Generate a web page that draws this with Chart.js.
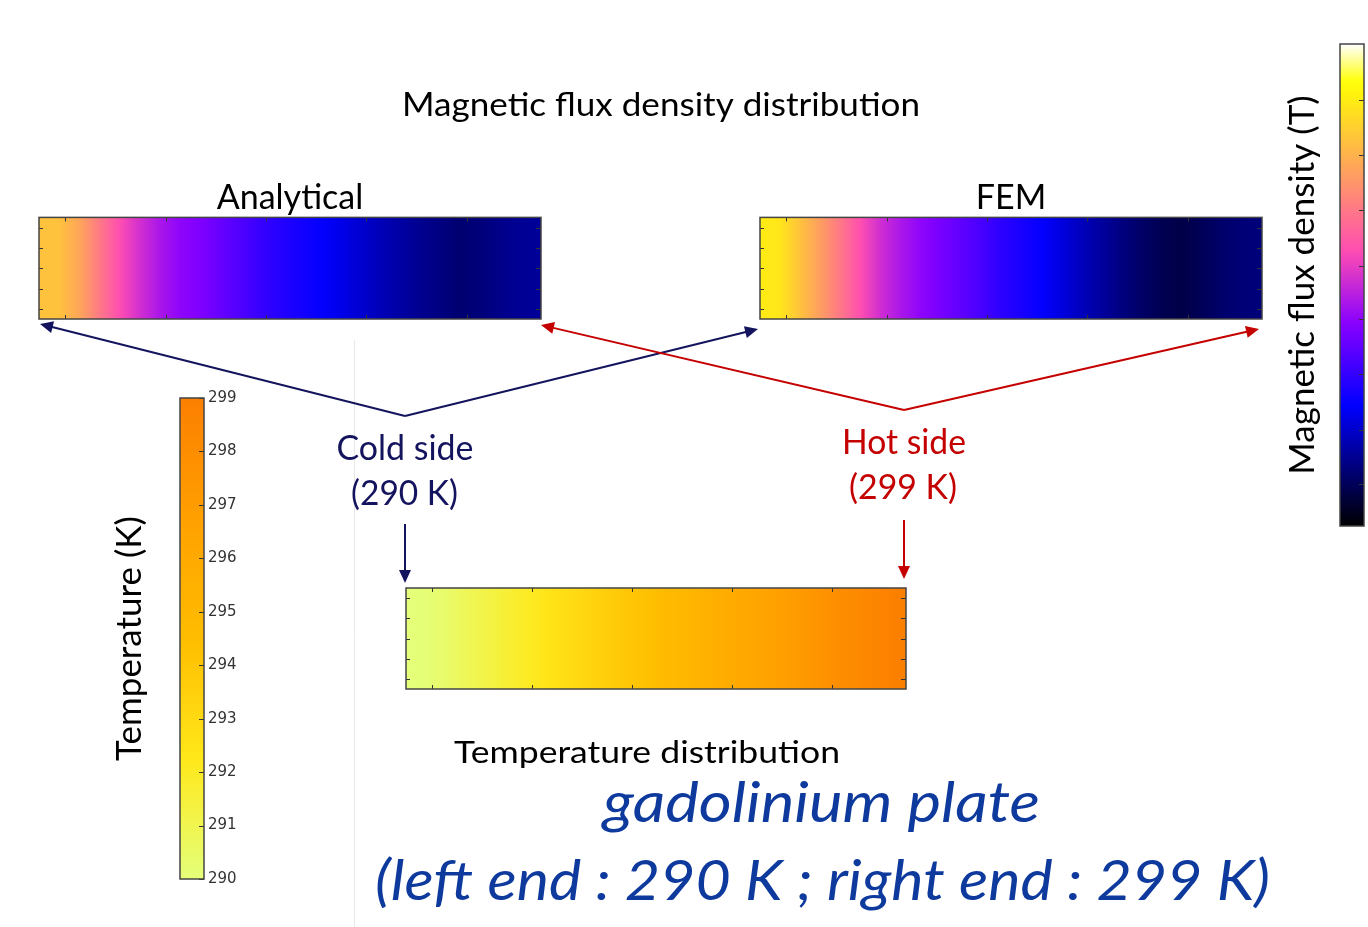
<!DOCTYPE html>
<html>
<head>
<meta charset="utf-8">
<script src="https://cdn.jsdelivr.net/npm/chart.js@4.4.1/dist/chart.umd.min.js"></script>
<style>
body{margin:0;background:#fff;width:1368px;height:927px;overflow:hidden;position:relative}
canvas{position:absolute}
</style>
</head>
<body>
<canvas id="analytical" width="504" height="141" style="left:38px;top:179px"></canvas>
<canvas id="fem" width="504" height="141" style="left:759px;top:179px"></canvas>
<canvas id="plate" width="502" height="103" style="left:405px;top:587px"></canvas>
<canvas id="tempBar" width="170" height="507" style="left:100px;top:385px"></canvas>
<canvas id="fluxBar" width="108" height="540" style="left:1260px;top:0px"></canvas>
<canvas id="overlay" width="1368" height="927" style="left:0;top:0;pointer-events:none"></canvas>
<script>
// sample positions along the plate (0 = left end, 100 = right end)
let stripPos = [0,4,8,12,16,20,24,28,32,36,40,44,48,52,56,60,64,68,72,76,80,84,88,92,96,100];

// normalised magnetic flux density
let fluxAnalytical = [0.80,0.80,0.745,0.66,0.575,0.515,0.465,0.43,0.41,0.38,0.35,0.32,0.295,
                      0.275,0.255,0.23,0.205,0.18,0.16,0.14,0.125,0.11,0.12,0.135,0.145,0.15];
let fluxFEM = [0.88,0.87,0.80,0.73,0.655,0.575,0.51,0.465,0.43,0.40,0.37,0.34,0.305,
               0.28,0.255,0.22,0.185,0.155,0.125,0.10,0.08,0.07,0.085,0.105,0.115,0.12];

// temperature along the plate (K)
let tempPlate = [290.0,290.1,290.4,290.8,291.2,291.6,292.0,292.4,292.8,293.2,293.6,293.9,294.3,
                 294.7,295.0,295.4,295.8,296.1,296.5,296.9,297.3,297.7,298.1,298.4,298.8,299.0];

let plateHeight = 20;
let stripTicksX = [5.2,25.2,45.2,65.2,85.2];
let stripTicksY = [2,6,10,14,18];
let tempTicks = [290,291,292,293,294,295,296,297,298,299];
let fluxTicks = [0.087,0.2,0.315,0.43,0.54,0.656,0.77,0.884];

// matplotlib gnuplot2
function gnuplot2(v){
    let c = x => Math.max(0, Math.min(1, x));
    let r = c(v/0.32 - 0.78125);
    let g = c(2*v - 0.84);
    let b = v < 0.25 ? 4*v : v < 0.42 ? 1 : v < 0.92 ? -2*v + 1.84 : v/0.08 - 11.5;
    b = c(b);
    return `rgb(${Math.round(r*255)},${Math.round(g*255)},${Math.round(b*255)})`;
}

// matplotlib Wistia, on 290..299 K
let wistia = [[228,255,122],[255,232,26],[255,189,0],[255,160,0],[252,127,0]];
function wistiaT(t){
    let f = Math.max(0, Math.min(1, (t - 290) / 9)) * 4;
    let i = Math.min(3, Math.floor(f)), k = f - i;
    let a = wistia[i], b = wistia[i+1];
    let m = j => Math.round(a[j] + (b[j]-a[j])*k);
    return `rgb(${m(0)},${m(1)},${m(2)})`;
}

// frame + inward ticks like matplotlib
let frame = {
    id: 'frame',
    afterDraw(chart, args, opts){
        let a = chart.chartArea, ctx = chart.ctx;
        ctx.save();
        ctx.strokeStyle = '#333';
        ctx.lineWidth = 1;
        let xs = chart.scales.x, ys = chart.scales[opts.yId || 'y'];
        (opts.xTicks || []).forEach(v => {
            let px = Math.round(xs.getPixelForValue(v)) + 0.5;
            ctx.beginPath();
            ctx.moveTo(px, a.bottom); ctx.lineTo(px, a.bottom - 4);
            ctx.moveTo(px, a.top); ctx.lineTo(px, a.top + 4);
            ctx.stroke();
        });
        (opts.yTicks || []).forEach(v => {
            let py = Math.round(ys.getPixelForValue(v)) + 0.5;
            ctx.beginPath();
            if (!opts.rightOnly){ ctx.moveTo(a.left, py); ctx.lineTo(a.left + 4, py); }
            ctx.moveTo(a.right, py); ctx.lineTo(a.right - 5, py);
            ctx.stroke();
        });
        ctx.strokeStyle = '#444';
        ctx.lineWidth = 1.5;
        ctx.strokeRect(a.left, a.top, a.right - a.left, a.bottom - a.top);
        ctx.restore();
    }
};

function stripFill(chart, cmap){
    let a = chart.chartArea;
    if (!a) return 'transparent';
    let xs = chart.scales.x;
    let g = chart.ctx.createLinearGradient(a.left, 0, a.right, 0);
    chart.data.datasets[0].data.forEach(d => {
        let f = (xs.getPixelForValue(d.x) - a.left) / (a.right - a.left);
        g.addColorStop(Math.max(0, Math.min(1, f)), cmap(d.v));
    });
    return g;
}

function stripChart(id, title, vals, cmap){
    return new Chart(id, {
        type: 'bar',
        data: {
            datasets: [{
                data: stripPos.map((p, i) => ({x: p, y: [0, plateHeight], v: vals[i]})),
                backgroundColor: ctx => stripFill(ctx.chart, cmap),
                borderWidth: 0,
                barPercentage: 1.1,
                categoryPercentage: 1,
                clip: 0
            }]
        },
        options: {
            responsive: false,
            animation: false,
            events: [],
            layout: {padding: {left: 1, right: 1, top: title ? 0 : 1, bottom: 1}},
            plugins: {
                legend: {display: false},
                tooltip: {enabled: false},
                title: {
                    display: !!title,
                    text: title,
                    color: '#000',
                    font: {family: 'Lato', size: 34, weight: 'normal', lineHeight: 1.1},
                    padding: {top: 0, bottom: 1}
                },
                frame: {xTicks: stripTicksX, yTicks: stripTicksY}
            },
            scales: {
                x: {type: 'linear', min: 0, max: 100, offset: false, display: false},
                y: {min: 0, max: plateHeight, display: false}
            }
        },
        plugins: [frame]
    });
}

function barFill(chart, cmap, min, max){
    let a = chart.chartArea;
    if (!a) return 'transparent';
    let g = chart.ctx.createLinearGradient(0, a.bottom, 0, a.top);
    for (let i = 0; i <= 40; i++){
        g.addColorStop(i/40, cmap(min + (max - min) * i / 40));
    }
    return g;
}

function colorbar(id, label, min, max, ticks, showLabels, cmap, titleSize, titlePad, rightW){
    return new Chart(id, {
        type: 'bar',
        data: {
            labels: ['cb'],
            datasets: [{
                data: [[min, max]],
                backgroundColor: ctx => barFill(ctx.chart, cmap, min, max),
                borderWidth: 0,
                barPercentage: 1,
                categoryPercentage: 1
            }]
        },
        options: {
            responsive: false,
            animation: false,
            events: [],
            layout: {padding: id == 'tempBar' ? {top: 10, bottom: 11} : {top: 44, bottom: 14}},
            plugins: {
                legend: {display: false},
                tooltip: {enabled: false},
                frame: {yTicks: ticks, rightOnly: true}
            },
            scales: {
                x: {display: false},
                y: {
                    position: 'right', min: min, max: max,
                    afterBuildTicks: s => { s.ticks = ticks.map(v => ({value: v})); },
                    afterFit: s => { s.width = rightW; },
                    ticks: {display: showLabels, padding: 4, color: '#333',
                            font: {family: 'DejaVu Sans', size: 15}},
                    grid: {display: false, drawTicks: false},
                    border: {display: false}
                },
                yl: {
                    position: 'left', min: min, max: max,
                    afterFit: s => { s.width = 80; },
                    ticks: {display: false},
                    grid: {display: false, drawTicks: false},
                    border: {display: false},
                    title: {display: true, text: label, color: '#000',
                            font: {family: 'Lato', size: titleSize},
                            padding: {top: titlePad, bottom: 0}}
                }
            }
        },
        plugins: [frame]
    });
}

stripChart('analytical', 'Analytical', fluxAnalytical, gnuplot2);
stripChart('fem', 'FEM', fluxFEM, gnuplot2);
stripChart('plate', '', tempPlate, wistiaT);
colorbar('tempBar', 'Temperature (K)', 290, 299, tempTicks, true, wistiaT, 35, 9, 66);
colorbar('fluxBar', 'Magnetic flux density (T)', 0, 1, fluxTicks, false, gnuplot2, 35, 22, 4);

// annotations
let ov = document.getElementById('overlay').getContext('2d');

function text(str, cx, base, size, w, color, italic){
    ov.save();
    ov.font = (italic ? 'italic ' : '') + size + 'px Lato';
    let m = ov.measureText(str).width;
    ov.translate(cx, base);
    ov.scale(w / m, 1);
    ov.fillStyle = color;
    ov.textAlign = 'center';
    ov.textBaseline = 'alphabetic';
    ov.fillText(str, 0, 0);
    ov.restore();
}

function arrow(x1, y1, x2, y2, color){
    let ang = Math.atan2(y2 - y1, x2 - x1), L = 13, W = 6;
    let c = Math.cos(ang), s = Math.sin(ang);
    ov.strokeStyle = color;
    ov.fillStyle = color;
    ov.lineWidth = 2;
    ov.beginPath();
    ov.moveTo(x1, y1);
    ov.lineTo(x2 - L*0.8*c, y2 - L*0.8*s);
    ov.stroke();
    ov.beginPath();
    ov.moveTo(x2, y2);
    ov.lineTo(x2 - L*c + W*s, y2 - L*s - W*c);
    ov.lineTo(x2 - L*c - W*s, y2 - L*s + W*c);
    ov.closePath();
    ov.fill();
}

let navy = '#14145e', red = '#c40000', blue = '#0e3a9e';

// faint slide guide line
ov.strokeStyle = '#e8e8e8';
ov.lineWidth = 1;
ov.beginPath(); ov.moveTo(354.5, 340); ov.lineTo(354.5, 927); ov.stroke();

arrow(405, 416, 40, 324, navy);
arrow(405, 416, 758, 329, navy);
arrow(904, 410, 541, 325, red);
arrow(904, 410, 1259, 329, red);
arrow(405, 524, 405, 583, navy);
arrow(904, 520, 904, 579, red);

text('Magnetic flux density distribution', 661, 116, 32, 518, '#000');
text('Cold side', 405, 460, 34, 137, navy);
text('(290 K)', 404.5, 505, 34, 107, navy);
text('Hot side', 904, 454, 34, 124, red);
text('(299 K)', 903, 499, 34, 108, red);
text('Temperature distribution', 647, 763, 30, 386, '#000');
text('gadolinium plate', 821.5, 822, 56, 437, blue, true);
text('(left end : 290 K ; right end : 299 K)', 822.5, 900, 56, 895, blue, true);
</script>
</body>
</html>
